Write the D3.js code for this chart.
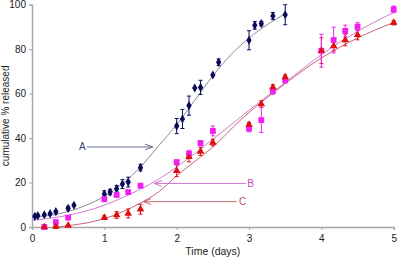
<!DOCTYPE html>
<html>
<head>
<meta charset="utf-8">
<script src="https://cdn.jsdelivr.net/npm/d3@7"></script>
<style>
  body { margin: 0; background: #fff; }
  svg text { font-family: "Liberation Sans", Arial, sans-serif; }
</style>
</head>
<body>
<div id="chart"></div>
<script>
// measured release data (days, % released, +/- error)
var timeA = [0.04, 0.08, 0.17, 0.25, 0.33, 0.5, 0.58, 1.0, 1.08, 1.17, 1.25, 1.33, 1.5, 2.0, 2.08, 2.17, 2.25, 2.33, 2.5, 2.58, 3.0, 3.08, 3.17, 3.33, 3.5];
var relA = [4.8, 5.1, 5.5, 6.0, 6.9, 8.4, 9.8, 14.8, 15.7, 17.2, 19.3, 20.2, 26.7, 45.4, 48.6, 54.6, 62.5, 62.8, 68.4, 74.1, 84.0, 90.7, 91.5, 94.9, 95.5];
var errA = [0.5, 0.5, 0, 0.5, 0.5, 0.8, 0, 1.5, 1.2, 1.5, 2, 2.2, 1.5, 3.4, 4.3, 4.3, 0, 3.2, 0, 1.5, 4.3, 1.7, 1, 1.6, 4.5];

var timeB = [0.17, 0.33, 0.5, 1.0, 1.17, 1.33, 1.5, 2.0, 2.17, 2.33, 2.5, 3.0, 3.17, 3.33, 3.5, 4.0, 4.17, 4.33, 4.5, 5.0];
var relB = [0, 2.2, 4.2, 12.5, 14.4, 15.7, 18.6, 29.2, 33, 37.7, 43.2, 44.3, 48.1, 61.2, 66, 79.3, 84.1, 88.2, 90.1, 97.9];
var errB = [0, 0, 0, 1, 0.8, 0.8, 0, 0.8, 1.5, 1.2, 2.2, 1.5, 5.6, 1.5, 1.2, 7.4, 5.8, 2.6, 1.8, 1.5];

var timeC = [0.17, 0.33, 0.5, 1.0, 1.17, 1.33, 1.5, 2.0, 2.17, 2.33, 2.5, 3.0, 3.17, 3.33, 3.5, 4.0, 4.17, 4.33, 4.5, 5.0];
var relC = [0, 0.3, 0.7, 4.2, 5.4, 6.1, 8.0, 25.3, 31.5, 34, 38, 46, 55.3, 62.8, 67.4, 79.3, 81.4, 84.1, 86.4, 91.9];
var errC = [0, 1, 0, 0.8, 1.5, 2, 2.2, 2.6, 2.2, 1.8, 1.5, 1, 1.5, 1.2, 1, 5.8, 2.2, 2.6, 2.2, 1];

// fitted curves
var fitTimeA = [0, 0.25, 0.5, 0.75, 1, 1.25, 1.5, 1.75, 2, 2.25, 2.5, 2.75, 3, 3.25, 3.5];
var fitA = [4.6, 5.2, 7, 9.8, 13.8, 19.5, 27, 36.5, 46, 57, 68, 77.5, 85, 91, 96];
var fitTimeB = [0, 0.5, 1, 1.25, 1.5, 1.75, 2, 2.25, 2.5, 2.83, 3, 3.5, 4, 4.5, 5];
var fitB = [3, 5.3, 9.8, 13.2, 17, 21.5, 27, 33, 39.5, 48, 52.5, 65, 77.5, 88, 96.5];
var fitTimeC = [0.35, 0.5, 0.75, 1, 1.25, 1.5, 1.75, 2, 2.25, 2.5, 2.88, 3, 3.5, 4, 4.5, 5];
var fitC = [0, 0.6, 1.8, 3.8, 6.8, 10.8, 15.8, 23, 29.5, 36, 48, 51.5, 64.5, 76, 85, 92];

var xTicks = [0, 1, 2, 3, 4, 5];
var yTicks = [0, 20, 40, 60, 80, 100];

const width = 397, height = 258;

var x = d3.scaleLinear().domain([0, 5]).range([32, 393.7]);
var y = d3.scaleLinear().domain([0, 100]).range([227, 4.7]);

var svg = d3.select("#chart").append("svg")
    .attr("width", width)
    .attr("height", height);

var defs = svg.append("defs");
function arrowHead(name, color) {
    defs.append("marker")
        .attr("id", name)
        .attr("viewBox", "0 0 8 8")
        .attr("refX", 8).attr("refY", 4)
        .attr("markerWidth", 8).attr("markerHeight", 8)
        .attr("markerUnits", "userSpaceOnUse")
        .attr("orient", "auto")
        .append("path")
        .attr("d", "M0,1 L8,4 L0,7")
        .attr("fill", "none")
        .attr("stroke", color)
        .attr("stroke-width", 1);
}
arrowHead("arrA", "#6b6b8f");
arrowHead("arrB", "#cc77cc");
arrowHead("arrC", "#cc6677");

// axes
var yAxis = svg.append("g")
    .attr("transform", "translate(" + x(0) + ",0)")
    .call(d3.axisLeft(y).tickValues(yTicks).tickFormat(d3.format("d")).tickSize(3).tickPadding(3));
var xAxis = svg.append("g")
    .attr("transform", "translate(0," + y(0) + ")")
    .call(d3.axisBottom(x).tickValues(xTicks).tickFormat(d3.format("d")).tickSize(3).tickPadding(5));
[xAxis, yAxis].forEach(function (g) {
    g.select(".domain").attr("stroke", "#a8a8a8").attr("stroke-width", 1.5);
    g.selectAll(".tick line").attr("stroke", "#a8a8a8");
    g.selectAll(".tick text").attr("fill", "#222").style("font-size", "10px");
});

svg.append("text")
    .attr("transform", "translate(9," + y(50) + ") rotate(-90)")
    .attr("text-anchor", "middle")
    .style("font-size", "10px")
    .attr("fill", "#222")
    .text("cumulative % released");

svg.append("text")
    .attr("x", x(2.5))
    .attr("y", 255)
    .attr("text-anchor", "middle")
    .style("font-size", "10.5px")
    .attr("fill", "#222")
    .text("Time (days)");

// fit lines
var line = d3.line()
    .x(function (d) { return x(d[0]); })
    .y(function (d) { return y(d[1]); })
    .curve(d3.curveMonotoneX);

function fitLine(ts, vs, color) {
    svg.append("path")
        .datum(d3.zip(ts, vs))
        .attr("d", line)
        .attr("fill", "none")
        .attr("stroke", color)
        .attr("stroke-width", 1);
}
fitLine(fitTimeA, fitA, "#8a8a9a");
fitLine(fitTimeB, fitB, "#d27ad2");
fitLine(fitTimeC, fitC, "#c8607a");

// error bars + markers
function series(ts, vs, es, color, symType, size) {
    var data = d3.zip(ts, vs, es);
    var g = svg.append("g");
    data.forEach(function (d) {
        if (d[2] > 0) {
            var cx = x(d[0]);
            g.append("line")
                .attr("x1", cx).attr("x2", cx)
                .attr("y1", y(d[1] - d[2])).attr("y2", y(d[1] + d[2]))
                .attr("stroke", color).attr("stroke-width", 1);
            [d[1] - d[2], d[1] + d[2]].forEach(function (v) {
                g.append("line")
                    .attr("x1", cx - 2).attr("x2", cx + 2)
                    .attr("y1", y(v)).attr("y2", y(v))
                    .attr("stroke", color).attr("stroke-width", 1);
            });
        }
    });
    g.selectAll(".pt")
        .data(data)
        .enter().append("path")
        .attr("transform", function (d) {
            return "translate(" + x(d[0]) + "," + y(d[1]) + ")";
        })
        .attr("d", d3.symbol().type(symType).size(size))
        .attr("fill", color);
}
series(timeA, relA, errA, "#0a0a5a", d3.symbolDiamond, 24);
series(timeC, relC, errC, "#e01010", d3.symbolTriangle, 24);
series(timeB, relB, errB, "#f020f0", d3.symbolSquare, 34);
// triangles drawn on top for the overlap spots
series(timeC, relC, errC.map(function () { return 0; }), "#e01010", d3.symbolTriangle, 20);

// annotations
var notes = [
    { label: "A", lx: 0.695, ly: 36, from: 0.76, to: 1.67, color: "#3c3c70", arrow: "#6b6b8f", id: "arrA" },
    { label: "B", lx: 3.02, ly: 19.6, from: 2.96, to: 1.69, color: "#c050c0", arrow: "#cc77cc", id: "arrB" },
    { label: "C", lx: 2.91, ly: 11.4, from: 2.83, to: 1.54, color: "#c04860", arrow: "#cc6677", id: "arrC" }
];
notes.forEach(function (n) {
    svg.append("line")
        .attr("x1", x(n.from)).attr("x2", x(n.to))
        .attr("y1", y(n.ly)).attr("y2", y(n.ly))
        .attr("stroke", n.arrow).attr("stroke-width", 1)
        .attr("marker-end", "url(#" + n.id + ")");
    svg.append("text")
        .attr("x", x(n.lx)).attr("y", y(n.ly))
        .attr("dy", "0.35em")
        .attr("text-anchor", "middle")
        .style("font-size", "10px")
        .attr("fill", n.color)
        .text(n.label);
});
</script>
</body>
</html>
